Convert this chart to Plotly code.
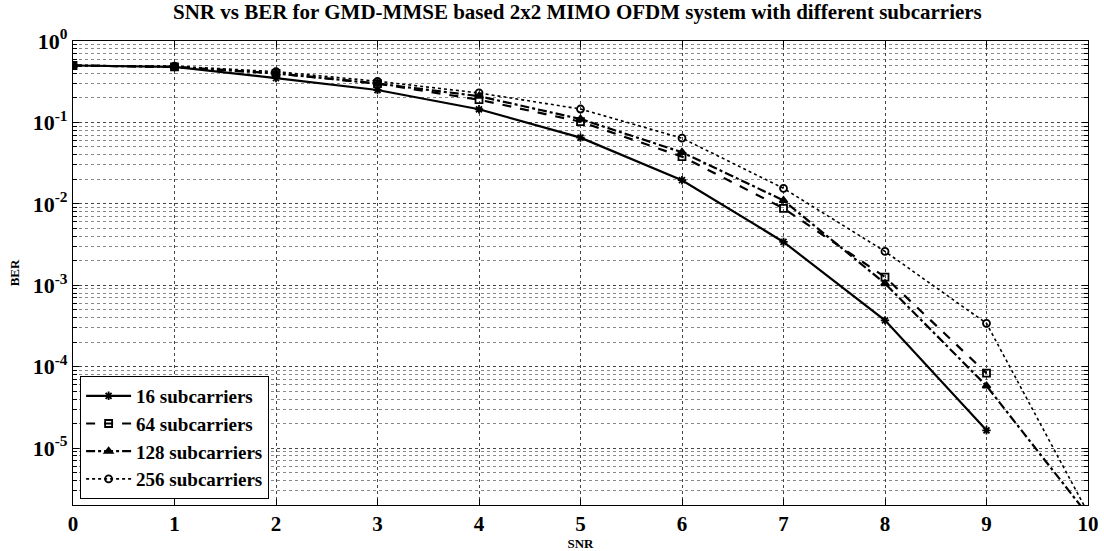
import plotly.graph_objects as go

snr = [0, 1, 2, 3, 4, 5, 6, 7, 8, 9, 10]
ber_16 = [0.50, 0.48, 0.35, 0.25, 0.145, 0.065, 0.0195, 0.0034, 0.00037, 0.0000165]
ber_64 = [0.50, 0.48, 0.40, 0.30, 0.19, 0.102, 0.038, 0.0088, 0.00126, 0.000083]
ber_128 = [0.50, 0.48, 0.40, 0.30, 0.21, 0.11, 0.043, 0.011, 0.00105, 0.000058, 0.0000015]
ber_256 = [0.50, 0.49, 0.42, 0.32, 0.23, 0.146, 0.064, 0.0155, 0.0026, 0.00034, 0.0000016]
names = ["16 subcarriers", "64 subcarriers", "128 subcarriers", "256 subcarriers"]
y_tickvals = [1e0, 1e-1, 1e-2, 1e-3, 1e-4, 1e-5]
y_ticktext = ["10<sup>0</sup>", "10<sup>-1</sup>", "10<sup>-2</sup>", "10<sup>-3</sup>",
              "10<sup>-4</sup>", "10<sup>-5</sup>"]
x_ticks = [0, 1, 2, 3, 4, 5, 6, 7, 8, 9, 10]

FONT = "Liberation Serif"

series = [
    (ber_16, names[0], "solid", "asterisk-open", 2.2, 7),
    (ber_64, names[1], "dash", "square-open", 2.2, 7),
    (ber_128, names[2], "dashdot", "triangle-up", 2.2, 7),
    (ber_256, names[3], "dot", "circle-open", 1.6, 7),
]

fig = go.Figure()
for vals, name, dash, sym, lw, ms in series:
    fig.add_trace(go.Scatter(
        x=snr[:len(vals)], y=vals, name="<b>" + name + "</b>", mode="lines+markers",
        line=dict(color="black", width=lw, dash=dash),
        marker=dict(symbol=sym, size=ms, color="black",
                    line=dict(color="black", width=1.8)),
    ))

fig.update_layout(
    width=1104, height=551,
    paper_bgcolor="white", plot_bgcolor="white",
    margin=dict(l=73, r=16, t=41, b=46),
    font=dict(family=FONT, color="black"),
    title=dict(text="<b>SNR vs BER for GMD-MMSE based 2x2 MIMO OFDM system with different subcarriers</b>",
               x=0.523, xanchor="center", y=0.978, yanchor="middle",
               font=dict(size=21, family=FONT, color="black")),
    legend=dict(x=0.007, y=0.013, xanchor="left", yanchor="bottom",
                bgcolor="white", bordercolor="black", borderwidth=1,
                font=dict(size=19, family=FONT, color="black"),
                tracegroupgap=0, itemwidth=45),
    showlegend=True,
)

fig.update_xaxes(
    range=[0, 10], tickvals=x_ticks, ticktext=[f"<b>{v}</b>" for v in x_ticks],
    tickfont=dict(size=21, family=FONT, color="black"),
    showline=True, linecolor="black", linewidth=1.2, mirror="allticks",
    ticks="inside", ticklen=6, tickcolor="black",
    showgrid=True, gridcolor="#444", griddash="dot", gridwidth=1,
    zeroline=False, automargin=False,
    title=dict(text="<b>SNR</b>", font=dict(size=13, family=FONT, color="black"), standoff=0),
)

fig.update_yaxes(
    type="log", range=[-5.7, 0],
    tickvals=y_tickvals, ticktext=["<b>" + t + "</b>" for t in y_ticktext],
    tickfont=dict(size=22, family=FONT, color="black"),
    showline=True, linecolor="black", linewidth=1.2, mirror="allticks",
    ticks="inside", ticklen=6, tickcolor="black",
    showgrid=True, gridcolor="#444", griddash="dot", gridwidth=1,
    zeroline=False, automargin=False,
    minor=dict(dtick="D1", showgrid=True, gridcolor="#888", griddash="dot",
               gridwidth=1, ticks="inside", ticklen=4, tickcolor="black"),
    title=dict(text="<b>BER</b>", font=dict(size=13, family=FONT, color="black"), standoff=10),
)

fig.write_html("out.html", config={"displayModeBar": False},
               post_script="document.body.style.margin='0';")
